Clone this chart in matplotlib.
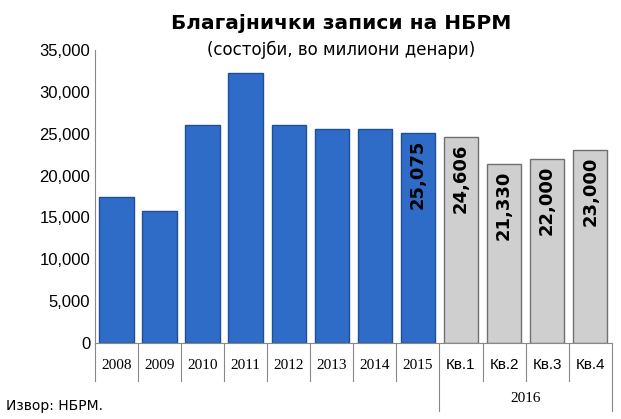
import matplotlib
matplotlib.use("Agg")
import matplotlib.pyplot as plt
from matplotlib.transforms import blended_transform_factory as btf

categories = ["2008","2009","2010","2011","2012","2013","2014","2015","Кв.1","Кв.2","Кв.3","Кв.4"]
values = [17500,15800,26000,32200,26000,25500,25500,25075,24606,21330,22000,23000]
labeled = [False]*7 + [True]*5
group_label = "2016"

fig = plt.figure(figsize=(6.21,4.19), dpi=100)
ax = fig.add_axes([0.153,0.181,0.832,0.70])
x = list(range(len(categories)))
colors = ["#2f6cc8"]*8 + ["#cfcfcf"]*4
edges = ["#1f4f95"]*8 + ["#707070"]*4
ax.bar(x, values, width=0.8, color=colors, edgecolor=edges, linewidth=1)
for i,(v,l) in enumerate(zip(values,labeled)):
    if l:
        ax.text(i, v-800, f"{v:,}", rotation=90, ha="center", va="top",
                fontsize=13, fontweight="bold", color="black")
ax.set_xlim(-0.5, len(categories)-0.5)
ax.set_ylim(0,35000)
ax.set_yticks(range(0,35001,5000))
ax.set_yticklabels([f"{t:,}" for t in range(0,35001,5000)], fontsize=12, family="Liberation Sans")
ax.set_xticks([])
for s in ["top","right"]:
    ax.spines[s].set_visible(False)
ax.spines["left"].set_color("#888888")
ax.spines["bottom"].set_color("#888888")
ax.tick_params(axis="y", length=0)

tr = btf(ax.transData, ax.transAxes)
for i,c in enumerate(categories):
    ax.text(i, -0.075, c, transform=tr, ha="center", va="center", fontsize=11,
            family="Liberation Serif" if i < 8 else "Liberation Sans")
ax.text(9.5, -0.19, group_label, transform=tr, ha="center", va="center", fontsize=11, family="Liberation Serif")
for b in range(len(categories)+1):
    xb = b-0.5
    bot = -0.23 if b in (8, len(categories)) else -0.13
    ax.plot([xb,xb],[0,bot], transform=tr, color="#888888", lw=0.8, clip_on=False)

fig.text(0.55, 0.945, "Благајнички записи на НБРМ", ha="center", va="center", fontsize=14.5, fontweight="bold")
fig.text(0.55, 0.88, "(состојби, во милиони денари)", ha="center", va="center", fontsize=12)
fig.text(0.01, 0.03, "Извор: НБРМ.", ha="left", va="center", fontsize=10)
fig.savefig("out.png", dpi=100)
